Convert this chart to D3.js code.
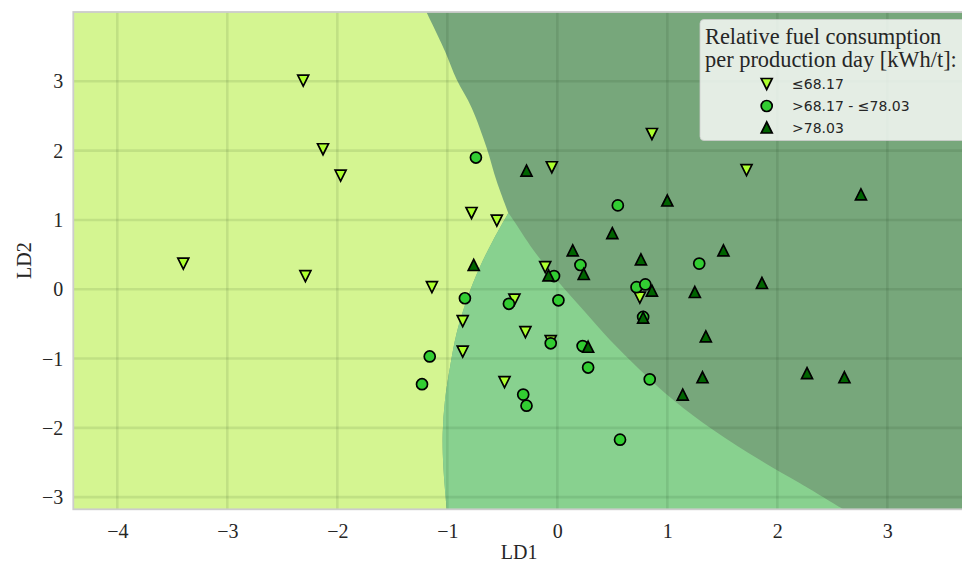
<!DOCTYPE html>
<html>
<head>
<meta charset="utf-8">
<script src="https://cdn.jsdelivr.net/npm/d3@7"></script>
<style>
  html, body { margin: 0; padding: 0; background: #ffffff; overflow: hidden; }
  svg { display: block; }
</style>
</head>
<body>
<svg id="chart" width="962" height="564"></svg>
<script>
// Axis ticks
const ld1Ticks = [-4, -3, -2, -1, 0, 1, 2, 3];
const ld2Ticks = [-3, -2, -1, 0, 1, 2, 3];

// Class labels (relative fuel consumption bins, kWh/t)
const classLabels = ["\u226468.17", ">68.17 - \u226478.03", ">78.03"];

// Projected samples [LD1, LD2] per class
const lowPoints = [
  [-2.31, 3.01], [-2.13, 2.02], [-1.97, 1.64], [-3.40, 0.37], [-2.29, 0.19],
  [-0.78, 1.10], [-0.55, 0.99], [-0.05, 1.76], [0.86, 2.24], [1.72, 1.72],
  [-1.14, 0.03], [-0.11, 0.32], [-0.39, -0.15], [0.75, -0.12], [-0.86, -0.46],
  [-0.29, -0.62], [-0.06, -0.75], [-0.86, -0.90], [-0.48, -1.34]
];
const midPoints = [
  [-0.74, 1.90], [0.55, 1.21], [1.29, 0.37], [0.21, 0.35], [-0.03, 0.19],
  [0.72, 0.03], [0.80, 0.07], [-0.84, -0.13], [-0.44, -0.21], [0.01, -0.16],
  [0.78, -0.40], [-0.06, -0.78], [0.23, -0.82], [-1.16, -0.97], [0.28, -1.13],
  [0.84, -1.30], [-1.23, -1.37], [-0.31, -1.52], [-0.28, -1.68], [0.57, -2.17]
];
const highPoints = [
  [-0.28, 1.71], [1.00, 1.28], [0.50, 0.81], [0.14, 0.56], [0.76, 0.43],
  [-0.76, 0.35], [0.24, 0.22], [-0.08, 0.20], [0.86, -0.02], [1.25, -0.04],
  [0.78, -0.41], [0.28, -0.83], [1.35, -0.68], [1.32, -1.27], [1.14, -1.52],
  [2.76, 1.37], [1.51, 0.56], [1.86, 0.09], [2.27, -1.21], [2.61, -1.27]
];

// Decision boundaries in LD space
const boundaryLowHigh = [
  [-1.19, 4.0], [-1.021, 3.434], [-0.915, 3.025], [-0.778, 2.616],
  [-0.642, 2.039], [-0.551, 1.558], [-0.445, 1.10]
];
const boundaryLowMid = [
  [-0.445, 1.10], [-0.582, 0.711], [-0.703, 0.326], [-0.824, -0.154],
  [-0.915, -0.631], [-0.975, -1.117], [-1.021, -1.597], [-1.042, -2.074],
  [-1.036, -2.560], [-1.005, -3.175]
];
const boundaryMidHigh = [
  [-0.445, 1.10], [-0.40, 1.0], [-0.218, 0.567], [-0.005, 0.134],
  [0.236, -0.299], [0.479, -0.732], [0.752, -1.164], [1.055, -1.597],
  [1.418, -2.030], [1.843, -2.463], [2.206, -2.799], [2.60, -3.175]
];

const xExtent = [-4.4, 3.706];
const yExtent = [-3.175, 4.0];

const plot = { left: 73.3, right: 965, top: 12, bottom: 509.3 };

const svg = d3.select("#chart");
const x = d3.scaleLinear().domain(xExtent).range([plot.left, plot.right]);
const y = d3.scaleLinear().domain(yExtent).range([plot.bottom, plot.top]);

const regionColors = { low: "#d4f591", mid: "#88d18f", high: "#77a77b" };
const markerFill = ["#adff2f", "#32cd32", "#006400"];

svg.append("defs").append("clipPath").attr("id", "plotclip")
  .append("rect")
  .attr("x", plot.left).attr("y", plot.top)
  .attr("width", plot.right - plot.left).attr("height", plot.bottom - plot.top);

const gPlot = svg.append("g").attr("clip-path", "url(#plotclip)");

// Background: the >78.03 region
gPlot.append("rect")
  .attr("x", plot.left).attr("y", plot.top)
  .attr("width", plot.right - plot.left).attr("height", plot.bottom - plot.top)
  .attr("fill", regionColors.high);

const curve = d3.line().x(d => x(d[0])).y(d => y(d[1])).curve(d3.curveCatmullRom.alpha(0.5));
const cont = pts => curve(pts).replace(/^M/, "L");

// Region ≤68.17
const lowPath =
  `M${x(xExtent[0])},${y(yExtent[1])}` +
  cont(boundaryLowHigh) +
  cont(boundaryLowMid) +
  `L${x(xExtent[0])},${y(yExtent[0])}Z`;
gPlot.append("path").attr("d", lowPath).attr("fill", regionColors.low);

// Region >68.17 - ≤78.03
const midPath = curve(boundaryLowMid) + cont(boundaryMidHigh.slice().reverse()) + "Z";
gPlot.append("path").attr("d", midPath).attr("fill", regionColors.mid);

// Grid
const grid = gPlot.append("g").attr("stroke", "rgba(0,30,0,0.09)").attr("stroke-width", 2.6);
grid.selectAll("line.v").data(ld1Ticks).join("line")
  .attr("x1", d => x(d)).attr("x2", d => x(d))
  .attr("y1", plot.top).attr("y2", plot.bottom);
grid.selectAll("line.h").data(ld2Ticks).join("line")
  .attr("y1", d => y(d)).attr("y2", d => y(d))
  .attr("x1", plot.left).attr("x2", plot.right);

// Markers
const r = 5.5;
const markerPath = [
  `M${-r},${-r}L${r},${-r}L0,${r}Z`,   // triangle down
  null,                                 // circle
  `M0,${-r}L${r},${r}L${-r},${r}Z`      // triangle up
];
function drawMarker(g, k) {
  const m = k === 1 ? g.append("circle").attr("r", r) : g.append("path").attr("d", markerPath[k]);
  return m.attr("fill", markerFill[k]).attr("stroke", "#000").attr("stroke-width", 1.7)
    .attr("stroke-linejoin", "miter");
}
[lowPoints, midPoints, highPoints].forEach((pts, k) => {
  const gg = gPlot.append("g");
  pts.forEach(p => {
    drawMarker(gg.append("g").attr("transform", `translate(${x(p[0])},${y(p[1])})`), k);
  });
});

// Frame
svg.append("rect")
  .attr("x", plot.left).attr("y", plot.top)
  .attr("width", plot.right - plot.left).attr("height", plot.bottom - plot.top)
  .attr("fill", "none").attr("stroke", "#cccccc").attr("stroke-width", 1.8);

// Axes (labels only, no tick marks)
const serif = "'Liberation Serif', 'Times New Roman', serif";
const fmt = d => d < 0 ? "\u2212" + Math.abs(d) : String(d);
const xAxis = d3.axisBottom(x).tickValues(ld1Ticks).tickFormat(fmt).tickSize(0).tickPadding(0);
const yAxis = d3.axisLeft(y).tickValues(ld2Ticks).tickFormat(fmt).tickSize(0).tickPadding(0);

const gx = svg.append("g").attr("transform", `translate(0,${plot.bottom})`).call(xAxis);
gx.select(".domain").remove();
gx.selectAll("text").attr("font-family", serif).attr("font-size", 20).attr("fill", "#262626")
  .attr("dy", null).attr("y", 29);

const gy = svg.append("g").attr("transform", `translate(${plot.left},0)`).call(yAxis);
gy.select(".domain").remove();
gy.selectAll("text").attr("font-family", serif).attr("font-size", 20).attr("fill", "#262626")
  .attr("x", -10).attr("dy", "0.33em");

svg.append("text")
  .attr("x", (plot.left + plot.right) / 2).attr("y", 559)
  .attr("text-anchor", "middle")
  .attr("font-family", serif).attr("font-size", 20).attr("fill", "#262626")
  .text("LD1");
svg.append("text")
  .attr("transform", `translate(31,${(plot.top + plot.bottom) / 2}) rotate(-90)`)
  .attr("text-anchor", "middle")
  .attr("font-family", serif).attr("font-size", 20).attr("fill", "#262626")
  .text("LD2");

// Legend
const legend = svg.append("g");
legend.append("rect")
  .attr("x", 700).attr("y", 19.5).attr("width", 290).attr("height", 121).attr("rx", 4)
  .attr("fill", "rgba(255,255,255,0.8)").attr("stroke", "rgba(204,204,204,0.8)").attr("stroke-width", 1);
const titleLines = ["Relative fuel consumption", "per production day [kWh/t]:"];
legend.selectAll("text.title").data(titleLines).join("text")
  .attr("class", "title")
  .attr("x", 705).attr("y", (d, i) => 43.5 + i * 23.5)
  .attr("font-family", serif).attr("font-size", 22.4).attr("fill", "#262626")
  .text(d => d);
const rowsY = [84, 106, 127.5];
classLabels.forEach((lab, k) => {
  const g = legend.append("g").attr("transform", `translate(766.7,${rowsY[k]})`);
  drawMarker(g, k);
  legend.append("text")
    .attr("x", 792).attr("y", rowsY[k]).attr("dy", "0.36em")
    .attr("font-family", "'DejaVu Sans', sans-serif").attr("font-size", 14).attr("fill", "#262626")
    .text(lab);
});
</script>
</body>
</html>
